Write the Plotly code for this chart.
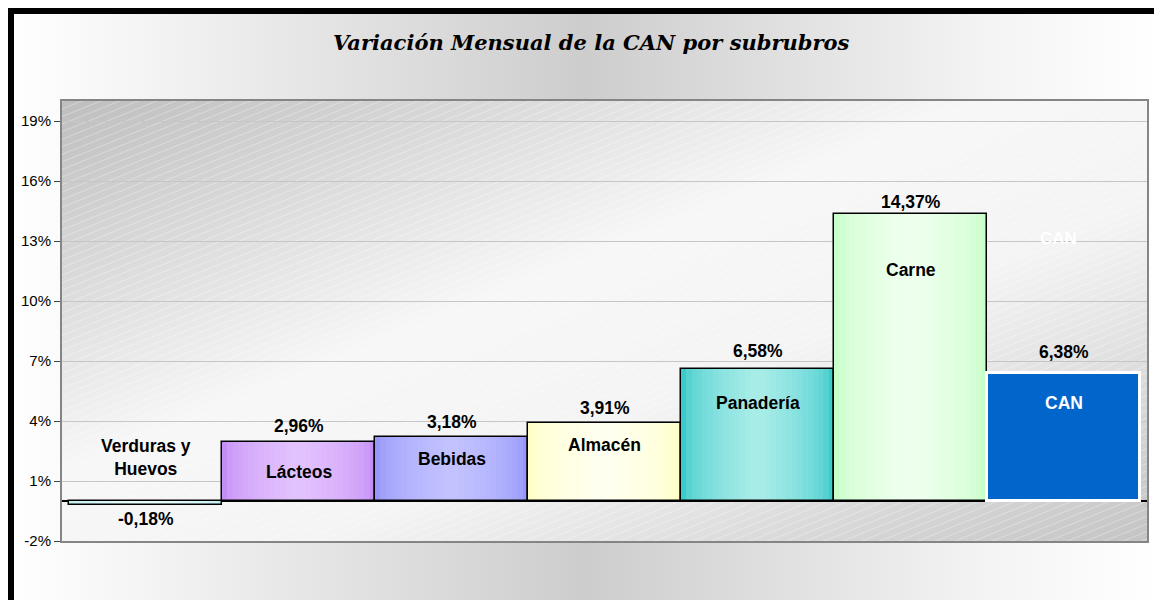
import base64
import plotly.graph_objects as go

# ---------------- data ----------------
categories = ["Verduras y Huevos", "Lácteos", "Bebidas", "Almacén", "Panadería", "Carne", "CAN"]
category_labels = ["Verduras y<br>Huevos", "Lácteos", "Bebidas", "Almacén", "Panadería", "Carne", "CAN"]
values = [-0.18, 2.96, 3.18, 3.91, 6.58, 14.37, 6.38]
tick_vals = [-2, 1, 4, 7, 10, 13, 16, 19]
tick_text = ["-2%", "1%", "4%", "7%", "10%", "13%", "16%", "19%"]
title_text = "Variación Mensual de la CAN por subrubros"

# ---------------- style ----------------
edge_colors = ["#c2eef0", "#c58ef6", "#9797fb", "#ffffc6", "#3ccaca", "#c8fec8", "#0066cc"]
center_colors = ["#e4fbfb", "#e2c2fd", "#c2c2ff", "#fffff0", "#a8ece8", "#eeffee", "#0066cc"]
outline_colors = ["black"] * 6 + ["white"]
outline_widths = [1.5] * 6 + [3]
label_colors = ["black"] * 6 + ["white"]
label_y = [2.2, 1.45, 2.1, 2.8, 4.9, 11.55, 4.9]        # category name positions (% units)
value_shift = [-2.5, 3.5, 3.5, 2.5, 6.5, -0.5, 9.5]     # px offset of value labels

# page body has an 8px margin, so the figure itself is 1154 x 592
W, H = 1154, 592
ML, MR, MT, MB = 54, 15, 93, 59
PW, PH = W - ML - MR, H - MT - MB
FONT = "Liberation Sans, Arial, sans-serif"


def px_x(p):
    return (p - ML) / PW


def px_y(p):
    return (H - MB - p) / PH


def hex2rgb(h):
    h = h.lstrip("#")
    return tuple(int(h[i:i + 2], 16) for i in (0, 2, 4))


def mix(a, b, t):
    ra, rb = hex2rgb(a), hex2rgb(b)
    return "rgb(%d,%d,%d)" % tuple(round(ra[i] + (rb[i] - ra[i]) * t) for i in range(3))


def svg_uri(svg):
    return "data:image/svg+xml;base64," + base64.b64encode(svg.encode()).decode()


paper_svg = (
    f"<svg xmlns='http://www.w3.org/2000/svg' width='{W}' height='{H}' "
    f"viewBox='0 0 {W} {H}' preserveAspectRatio='none'>"
    "<defs><linearGradient id='g' x1='0' y1='0' x2='1' y2='0'>"
    "<stop offset='0' stop-color='#ffffff'/><stop offset='0.12' stop-color='#f4f4f4'/>"
    "<stop offset='0.5' stop-color='#cdcdcd'/><stop offset='0.85' stop-color='#f4f4f4'/>"
    "<stop offset='1' stop-color='#ffffff'/></linearGradient></defs>"
    f"<rect width='{W}' height='{H}' fill='url(#g)'/></svg>"
)
plot_svg = (
    f"<svg xmlns='http://www.w3.org/2000/svg' width='{PW}' height='{PH}' "
    f"viewBox='0 0 {PW} {PH}' preserveAspectRatio='none'>"
    "<defs><linearGradient id='g' x1='0' y1='0' x2='1' y2='1'>"
    "<stop offset='0' stop-color='#bebebe'/><stop offset='0.42' stop-color='#f7f7f7'/>"
    "<stop offset='0.62' stop-color='#f4f4f4'/><stop offset='1' stop-color='#c4c4c4'/>"
    "</linearGradient>"
    "<pattern id='p' width='7' height='7' patternUnits='userSpaceOnUse' patternTransform='rotate(-22)'>"
    "<line x1='0' y1='0.5' x2='7' y2='0.5' stroke='#ffffff' stroke-opacity='0.3' stroke-width='1'/>"
    "</pattern></defs>"
    f"<rect width='{PW}' height='{PH}' fill='url(#g)'/>"
    f"<rect width='{PW}' height='{PH}' fill='url(#p)'/></svg>"
)

x = list(range(len(categories)))
fig = go.Figure()

K = 14
for k in range(K):
    t = k / (K - 1)
    width = 1 - 0.9 * t
    f = t ** 0.55
    fig.add_trace(go.Bar(
        x=x, y=values, width=[width] * len(x),
        marker=dict(color=[mix(e, c, f) for e, c in zip(edge_colors, center_colors)],
                    line=dict(width=0)),
        hoverinfo="skip", showlegend=False,
    ))

fig.add_trace(go.Bar(
    x=x, y=values, width=[1] * len(x),
    marker=dict(color="rgba(0,0,0,0)", line=dict(color=outline_colors, width=outline_widths)),
    customdata=categories, hovertemplate="%{customdata}: %{y:.2f}%<extra></extra>",
    showlegend=False,
))

annotations = []
for i, v in enumerate(values):
    txt = f"{v:.2f}".replace(".", ",") + "%"
    annotations.append(dict(
        x=i, y=v, xref="x", yref="y", text=f"<b>{txt}</b>", showarrow=False,
        yanchor="bottom" if v >= 0 else "top", yshift=value_shift[i],
        font=dict(family=FONT, size=17.5, color="black"),
    ))
    annotations.append(dict(
        x=i, y=label_y[i], xref="x", yref="y", text=f"<b>{category_labels[i]}</b>",
        showarrow=False, yanchor="middle",
        font=dict(family=FONT, size=17.5, color=label_colors[i]),
    ))
annotations.append(dict(
    x=len(categories) - 1, y=13.15, xref="x", yref="y", xshift=-5, text="<b>CAN</b>",
    showarrow=False, font=dict(family=FONT, size=17, color="white"),
))
annotations.append(dict(
    x=px_x(583), y=px_y(35), xref="paper", yref="paper", text=f"<b><i>{title_text}</i></b>",
    showarrow=False, xanchor="center", yanchor="middle",
    font=dict(family="DejaVu Serif, serif", size=21, color="black"),
))

fig.update_layout(
    width=W, height=H,
    margin=dict(l=ML, r=MR, t=MT, b=MB, pad=0),
    paper_bgcolor="white",
    plot_bgcolor="rgba(0,0,0,0)",
    barmode="overlay", bargap=0,
    showlegend=False,
    annotations=annotations,
    xaxis=dict(range=[-0.5 - 7 / 153, len(categories) - 0.5 + 7 / 153], showticklabels=False,
               showgrid=False, zeroline=False, showline=True, mirror=True,
               linecolor="#858585", linewidth=2, ticks=""),
    yaxis=dict(range=[-2, 20], tickvals=tick_vals, ticktext=tick_text,
               tickfont=dict(family=FONT, size=15, color="black"),
               showgrid=True, gridcolor="#c6c6c6", gridwidth=1,
               zeroline=True, zerolinecolor="black", zerolinewidth=1.5,
               showline=True, mirror=True, linecolor="#858585", linewidth=2,
               ticks="outside", ticklen=6, tickcolor="#444444"),
    images=[
        dict(source=svg_uri(paper_svg), xref="paper", yref="paper", x=px_x(0), y=px_y(0),
             sizex=W / PW, sizey=H / PH, xanchor="left", yanchor="top",
             sizing="stretch", layer="below"),
        dict(source=svg_uri(plot_svg), xref="paper", yref="paper", x=0, y=1,
             sizex=1, sizey=1, xanchor="left", yanchor="top", sizing="stretch", layer="below"),
    ],
    shapes=[
        dict(type="line", xref="paper", yref="paper", x0=px_x(0), x1=px_x(W + 5),
             y0=px_y(3), y1=px_y(3), line=dict(color="black", width=6)),
        dict(type="line", xref="paper", yref="paper", x0=px_x(3), x1=px_x(3),
             y0=px_y(0), y1=px_y(H + 5), line=dict(color="black", width=6)),
    ],
)

fig.write_html("out.html")
